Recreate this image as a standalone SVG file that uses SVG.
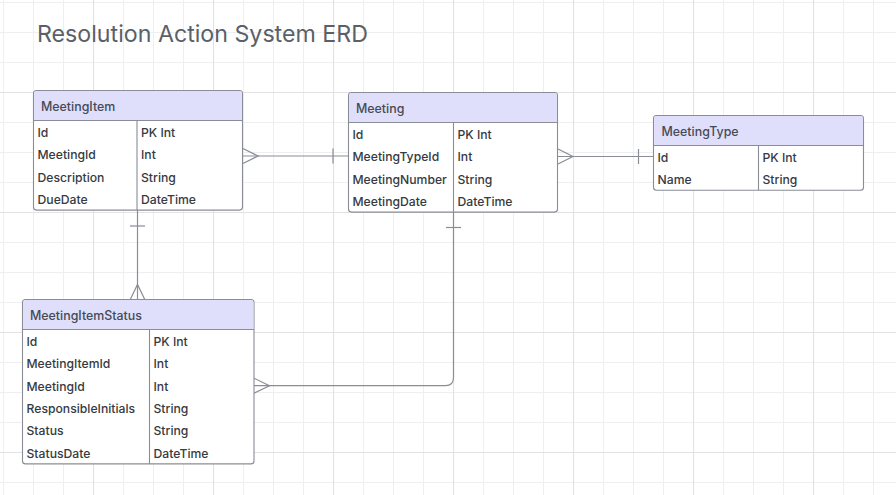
<svg xmlns="http://www.w3.org/2000/svg" width="896" height="495" viewBox="0 0 896 495">
<defs>
<pattern id="minor" x="3" y="2" width="30" height="30" patternUnits="userSpaceOnUse">
<path d="M0.5 0V30M0 0.5H30" fill="none" stroke="#efeff1" stroke-width="1"/>
</pattern>
<pattern id="major" x="93" y="92" width="120" height="120" patternUnits="userSpaceOnUse">
<path d="M0.5 0V120M0 0.5H120" fill="none" stroke="#e2e2e5" stroke-width="1.2"/>
</pattern>
</defs>
<style>
.box{fill:#ffffff;stroke:#8a8d96;stroke-width:1.1}
.hdr{fill:#dfdffc;stroke:none}
.sep{stroke:#8a8d96;stroke-width:1.1;fill:none}
.ht{font-family:Inter,"Liberation Sans",sans-serif;font-size:12.4px;font-weight:500;fill:#464a53;dominant-baseline:central}
.rt{font-family:Inter,"Liberation Sans",sans-serif;font-size:12.2px;font-weight:500;fill:#363a42;dominant-baseline:central}
.title{font-family:Inter,"Liberation Sans",sans-serif;font-size:23.2px;fill:#5b5f68}
.con{stroke:#8a8d96;stroke-width:1.2;fill:none}
</style>
<rect width="896" height="495" fill="#ffffff"/>
<rect width="896" height="495" fill="url(#minor)"/>
<rect width="896" height="495" fill="url(#major)"/>
<text class="title" x="37" y="42">Resolution Action System ERD</text>

<g id="connectors">
<!-- MeetingItem - Meeting -->
<path class="con" d="M243 156H348"/>
<path class="con" d="M243 148.5L258 156L243 163.5"/>
<path class="con" d="M333 148.5V163.5"/>
<!-- Meeting - MeetingType -->
<path class="con" d="M558 156.5H653"/>
<path class="con" d="M558 149L573 156.5L558 164"/>
<path class="con" d="M638.5 149V164"/>
<!-- MeetingItem - MeetingItemStatus -->
<path class="con" d="M137.5 210V300"/>
<path class="con" d="M130 226H145"/>
<path class="con" d="M130 300L137.5 284.5L145 300"/>
<!-- Meeting - MeetingItemStatus -->
<path class="con" d="M453.5 212V377.5Q453.5 385.7 445.5 385.7H254"/>
<path class="con" d="M446 227.5H461"/>
<path class="con" d="M254 378.2L269.5 385.7L254 393.2"/>
</g>

<g id="MeetingItem">
<rect class="box" x="33.5" y="90.5" width="209" height="119.6" rx="3"/>
<path class="hdr" d="M34.05 120.5V93.5Q34.05 91.05 36.5 91.05H239.5Q241.95 91.05 241.95 93.5V120.5Z"/>
<path class="sep" d="M33.5 120.5H242.5M137 120.5V210.1"/>
<text class="ht" x="41" y="106">MeetingItem</text>
<text class="rt" x="37.5" y="132.2">Id</text><text class="rt" x="141" y="132.2">PK Int</text>
<text class="rt" x="37.5" y="154.6">MeetingId</text><text class="rt" x="141" y="154.6">Int</text>
<text class="rt" x="37.5" y="177">Description</text><text class="rt" x="141" y="177">String</text>
<text class="rt" x="37.5" y="199.4">DueDate</text><text class="rt" x="141" y="199.4">DateTime</text>
</g>

<g id="Meeting">
<rect class="box" x="348.5" y="92.5" width="209" height="119.6" rx="3"/>
<path class="hdr" d="M349.05 122.5V95.5Q349.05 93.05 351.5 93.05H554.5Q556.95 93.05 556.95 95.5V122.5Z"/>
<path class="sep" d="M348.5 122.5H557.5M453.5 122.5V212.1"/>
<text class="ht" x="356" y="108">Meeting</text>
<text class="rt" x="352.5" y="134.2">Id</text><text class="rt" x="457.5" y="134.2">PK Int</text>
<text class="rt" x="352.5" y="156.6">MeetingTypeId</text><text class="rt" x="457.5" y="156.6">Int</text>
<text class="rt" x="352.5" y="179">MeetingNumber</text><text class="rt" x="457.5" y="179">String</text>
<text class="rt" x="352.5" y="201.4">MeetingDate</text><text class="rt" x="457.5" y="201.4">DateTime</text>
</g>

<g id="MeetingType">
<rect class="box" x="653.5" y="115.5" width="210" height="74.8" rx="3"/>
<path class="hdr" d="M654.05 145.5V118.5Q654.05 116.05 656.5 116.05H860.5Q862.95 116.05 862.95 118.5V145.5Z"/>
<path class="sep" d="M653.5 145.5H863.5M758.5 145.5V190.3"/>
<text class="ht" x="661.5" y="131">MeetingType</text>
<text class="rt" x="657.5" y="157.2">Id</text><text class="rt" x="762.5" y="157.2">PK Int</text>
<text class="rt" x="657.5" y="179.6">Name</text><text class="rt" x="762.5" y="179.6">String</text>
</g>

<g id="MeetingItemStatus">
<rect class="box" x="22.5" y="299.5" width="231.5" height="164.4" rx="3"/>
<path class="hdr" d="M23.05 329.5V302.5Q23.05 300.05 25.5 300.05H251Q253.45 300.05 253.45 302.5V329.5Z"/>
<path class="sep" d="M22.5 329.5H254M149.5 329.5V463.9"/>
<text class="ht" x="30" y="315">MeetingItemStatus</text>
<text class="rt" x="26.5" y="341.2">Id</text><text class="rt" x="153.5" y="341.2">PK Int</text>
<text class="rt" x="26.5" y="363.6">MeetingItemId</text><text class="rt" x="153.5" y="363.6">Int</text>
<text class="rt" x="26.5" y="386">MeetingId</text><text class="rt" x="153.5" y="386">Int</text>
<text class="rt" x="26.5" y="408.4">ResponsibleInitials</text><text class="rt" x="153.5" y="408.4">String</text>
<text class="rt" x="26.5" y="430.8">Status</text><text class="rt" x="153.5" y="430.8">String</text>
<text class="rt" x="26.5" y="453.2">StatusDate</text><text class="rt" x="153.5" y="453.2">DateTime</text>
</g>
</svg>
